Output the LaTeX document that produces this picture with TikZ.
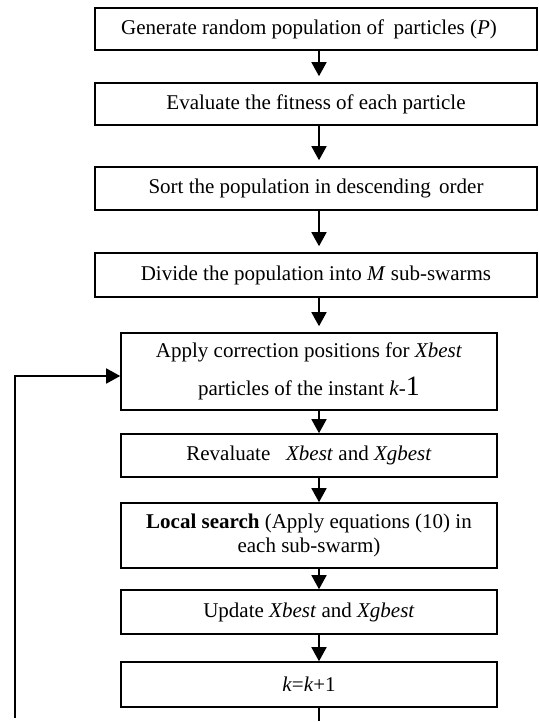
\documentclass[tikz,border=0pt]{standalone}
\usepackage{fontspec}
\setmainfont{Liberation Serif}
\usetikzlibrary{arrows.meta}
\begin{document}
\begin{tikzpicture}[x=1pt,y=-1pt,
  box/.style={draw, line width=1.6pt, inner sep=0pt, align=center,
    font=\fontsize{21}{24}\selectfont},
  widebox/.style={box, minimum width=442pt},
  narrowbox/.style={box, minimum width=376pt},
  arr/.style={line width=1.6pt, -{Triangle[length=14pt,width=15pt]}},
  gaparr/.style={arr, shorten >=6pt},
  link/.style={line width=1.6pt}]
\useasboundingbox (0,0) rectangle (538,722);

\node[widebox, minimum height=42pt] (b1) at (316,29)
  {Generate random population of\hspace{0.45em}particles (\textit{P})\hspace*{14pt}};
\node[widebox, minimum height=42pt] (b2) at (316,104)
  {Evaluate the fitness of each particle};
\node[widebox, minimum height=43pt] (b3) at (316,188.5)
  {Sort the population in descending\hspace{0.4em}order};
\node[widebox, minimum height=44pt] (b4) at (316,275)
  {Divide the population into \textit{M} sub-swarms};
\node[narrowbox, minimum height=77pt] (b5) at (309,371.5)
  {Apply correction positions for \textit{Xbest}\\[14pt]
   particles of the instant \textit{k}-{\fontsize{28}{28}\selectfont 1}};
\node[narrowbox, minimum height=43pt] (b6) at (309,455.5)
  {Revaluate\hspace{0.5em} \textit{Xbest} and \textit{Xgbest}};
\node[narrowbox, minimum height=65pt] (b7) at (309,535.5)
  {\textbf{Local search} (Apply equations (10) in\\ each sub-swarm)};
\node[narrowbox, minimum height=44pt] (b8) at (309,612)
  {Update \textit{Xbest} and \textit{Xgbest}};
\node[narrowbox, minimum height=45pt] (b9) at (309,684.5)
  {\textit{k}=\textit{k}+1};

\coordinate (ax) at (319,0);
\draw[gaparr] (b1.south -| ax) -- (b2.north -| ax);
\draw[gaparr] (b2.south -| ax) -- (b3.north -| ax);
\draw[gaparr] (b3.south -| ax) -- (b4.north -| ax);
\draw[gaparr] (b4.south -| ax) -- (b5.north -| ax);
\draw[arr] (b5.south -| ax) -- (b6.north -| ax);
\draw[arr] (b6.south -| ax) -- (b7.north -| ax);
\draw[arr] (b7.south -| ax) -- (b8.north -| ax);
\draw[arr] (b8.south -| ax) -- (b9.north -| ax);

\coordinate (bot) at (319,721);
\draw[link] (b9.south -| ax) -- (bot);

\coordinate (fb0) at (15,718);
\coordinate (fb1) at (15,376);
\draw[arr] (fb0) -- (fb1) -- (fb1 -| b5.west);
\end{tikzpicture}
\end{document}
